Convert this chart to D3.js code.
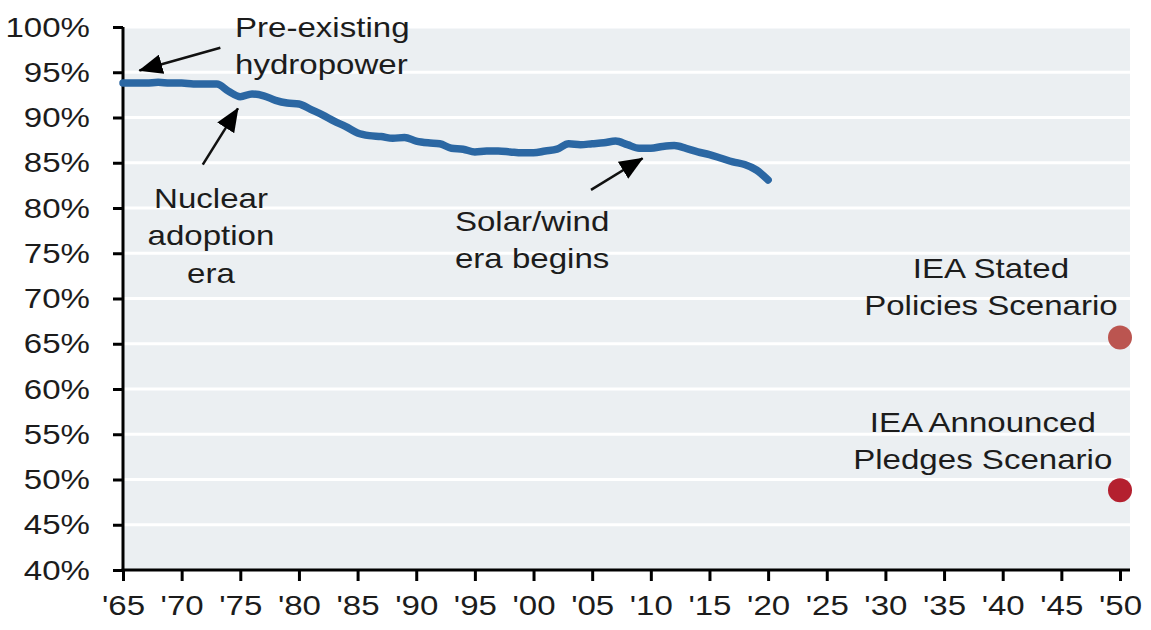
<!DOCTYPE html>
<html>
<head>
<meta charset="utf-8">
<script src="https://cdn.jsdelivr.net/npm/d3@7"></script>
<style>
  body { margin: 0; background: #fff; }
  svg text { font-family: "Liberation Sans", Arial, sans-serif; font-size: 28.5px; fill: #1c1c1c; }
  /* the source picture is a bit stretched sideways, so the text is too */
  .wide { transform-box: fill-box; transform: scaleX(1.16); }
  .y-axis text { transform-origin: right center; }
  .x-axis text, .mid { transform-origin: center; }
  .left { transform-origin: left center; }
</style>
</head>
<body>
<script>
// share of fossil fuels in primary energy (%), 1965-2020
var years = d3.range(1965, 2021);
var shares = [
  93.8, 93.8, 93.8, 93.9, 93.8, 93.8, 93.7, 93.7, 93.7, 92.9,
  92.3, 92.6, 92.4, 91.9, 91.6, 91.5, 90.9, 90.3, 89.6, 89.0,
  88.3, 88.0, 87.9, 87.7, 87.8, 87.4, 87.2, 87.1, 86.6, 86.5,
  86.2, 86.3, 86.3, 86.2, 86.1, 86.1, 86.3, 86.5, 87.1, 87.0,
  87.1, 87.2, 87.4, 87.0, 86.6, 86.6, 86.8, 86.9, 86.6, 86.2,
  85.9, 85.5, 85.1, 84.8, 84.2, 83.1
];

// IEA 2050 scenarios
var scenarioNames = ["IEA Stated|Policies Scenario", "IEA Announced|Pledges Scenario"];
var scenarioYears = [2050, 2050];
var scenarioValues = [65.7, 48.8];
var scenarioColors = ["#bb5550", "#b4202f"];

var yTicks = d3.range(40, 101, 5);
var xTicks = d3.range(1965, 2051, 5);

// annotations in data units: [year, value]
var notes = [
  {lines: ["Pre-existing", "hydropower"], at: [1974.55, 98.9], anchor: "start", from: [1973.3, 97.7], to: [1966.4, 95.2]},
  {lines: ["Nuclear", "adoption", "era"], at: [1972.5, 80.0], anchor: "middle", from: [1971.8, 84.8], to: [1974.8, 91.0]},
  {lines: ["Solar/wind", "era begins"], at: [1993.3, 77.5], anchor: "start", from: [2004.9, 82.0], to: [2009.3, 85.5]}
];
var scenarioLabelAt = [[2039.0, 72.3], [2038.3, 55.2]];

var svgWidth = 1151,
    svgHeight = 630,
    margin = {top: 27, right: 21, bottom: 60, left: 123};

var width = svgWidth - margin.left - margin.right,
    height = svgHeight - margin.top - margin.bottom;

var svg = d3.select("body")
  .append("svg")
    .attr("width", svgWidth)
    .attr("height", svgHeight);

var defs = svg.append("defs");
defs.append("marker")
    .attr("id", "head")
    .attr("markerUnits", "userSpaceOnUse")
    .attr("viewBox", "0 0 24 20")
    .attr("refX", 23)
    .attr("refY", 10)
    .attr("markerWidth", 24)
    .attr("markerHeight", 20)
    .attr("orient", "auto")
  .append("path")
    .attr("d", "M0,0 L24,10 L0,20 Z")
    .attr("fill", "#000");

var chart = svg.append("g")
    .attr("transform", "translate(" + margin.left + "," + margin.top + ")");

var x = d3.scaleLinear().domain([1965, 2050]).range([0, width - 10]);
var y = d3.scaleLinear().domain([40, 100]).range([height, 0]);

// plot background + white grid
chart.append("rect")
    .attr("width", width)
    .attr("height", height)
    .attr("fill", "#ebeff2");

chart.selectAll(".grid")
    .data(yTicks.slice(1))
  .enter().append("line")
    .attr("class", "grid")
    .attr("x1", 0)
    .attr("x2", width)
    .attr("y1", function(d) { return y(d); })
    .attr("y2", function(d) { return y(d); })
    .attr("stroke", "#fff")
    .attr("stroke-width", 3);

// axes
var yAxis = d3.axisLeft(y)
    .tickValues(yTicks)
    .tickSize(10)
    .tickPadding(23)
    .tickFormat(function(d) { return d + "%"; });

var xAxis = d3.axisBottom(x)
    .tickValues(xTicks)
    .tickSize(11)
    .tickPadding(14)
    .tickFormat(function(d) { return "'" + d3.format("02")(d % 100); });

var gy = chart.append("g").attr("class", "y-axis").call(yAxis);
var gx = chart.append("g").attr("class", "x-axis")
    .attr("transform", "translate(0," + height + ")")
    .call(xAxis);

[gx, gy].forEach(function(g) {
  g.select(".domain").remove();
  g.selectAll(".tick line").attr("stroke", "#000").attr("stroke-width", 3);
  g.selectAll("text").attr("class", "wide").attr("font-size", null).attr("font-family", null).attr("fill", null);
  g.attr("font-size", null).attr("font-family", null);
});

chart.append("line")
    .attr("x1", 0).attr("x2", 0)
    .attr("y1", 0).attr("y2", height + 1.5)
    .attr("stroke", "#000").attr("stroke-width", 3);
chart.append("line")
    .attr("x1", -1.5).attr("x2", width)
    .attr("y1", height).attr("y2", height)
    .attr("stroke", "#000").attr("stroke-width", 3);

// history line
var line = d3.line()
    .x(function(d, i) { return x(years[i]); })
    .y(function(d) { return y(d); })
    .curve(d3.curveMonotoneX);

chart.append("path")
    .datum(shares)
    .attr("d", line)
    .attr("fill", "none")
    .attr("stroke", "#2b67a3")
    .attr("stroke-width", 7.5)
    .attr("stroke-linejoin", "round")
    .attr("stroke-linecap", "round");

// scenario dots
chart.selectAll(".dot")
    .data(scenarioValues)
  .enter().append("circle")
    .attr("class", "dot")
    .attr("cx", function(d, i) { return x(scenarioYears[i]); })
    .attr("cy", function(d) { return y(d); })
    .attr("r", 12)
    .attr("fill", function(d, i) { return scenarioColors[i]; });

// scenario labels
scenarioNames.forEach(function(name, i) {
  var t = chart.append("text")
      .attr("class", "wide mid")
      .attr("text-anchor", "middle");
  name.split("|").forEach(function(s, j) {
    t.append("tspan")
        .attr("x", x(scenarioLabelAt[i][0]))
        .attr("y", y(scenarioLabelAt[i][1]) + j * 37)
        .text(s);
  });
});

// annotations with arrows
notes.forEach(function(n) {
  var t = chart.append("text")
      .attr("class", "wide " + (n.anchor === "middle" ? "mid" : "left"))
      .attr("text-anchor", n.anchor);
  n.lines.forEach(function(s, j) {
    t.append("tspan")
        .attr("x", x(n.at[0]))
        .attr("y", y(n.at[1]) + j * 37.5)
        .text(s);
  });
  chart.append("line")
      .attr("x1", x(n.from[0]))
      .attr("y1", y(n.from[1]))
      .attr("x2", x(n.to[0]))
      .attr("y2", y(n.to[1]))
      .attr("stroke", "#111")
      .attr("stroke-width", 2.5)
      .attr("marker-end", "url(#head)");
});
</script>
</body>
</html>
